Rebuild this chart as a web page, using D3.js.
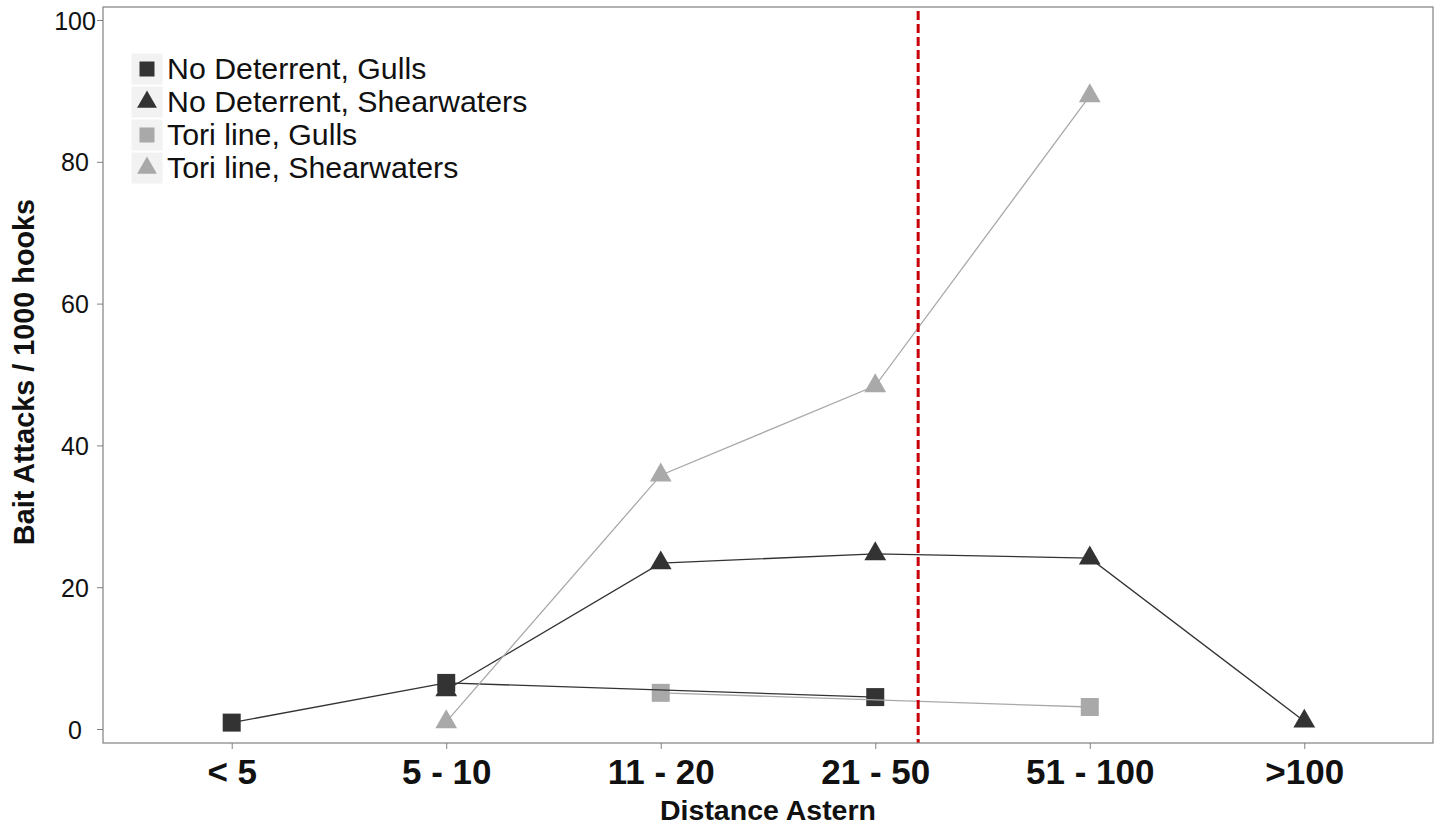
<!DOCTYPE html>
<html>
<head>
<meta charset="utf-8">
<script src="https://cdn.jsdelivr.net/npm/d3@7/dist/d3.min.js"></script>
<style>
  html, body { margin: 0; padding: 0; background: #fff; }
  svg { display: block; font-family: "Liberation Sans", Arial, sans-serif; }
</style>
</head>
<body>
<svg id="chart" width="1437" height="826"></svg>
<script>
// ---- data ----
const categories = ["< 5", "5 - 10", "11 - 20", "21 - 50", "51 - 100", ">100"];
const yTicks = [0, 20, 40, 60, 80, 100];

const ndGullsCats = ["< 5", "5 - 10", "21 - 50"];
const ndGullsVals = [0.9, 6.5, 4.5];

const ndShearCats = ["5 - 10", "11 - 20", "21 - 50", "51 - 100", ">100"];
const ndShearVals = [5.5, 23.4, 24.7, 24.1, 1.1];

const toriGullsCats = ["11 - 20", "51 - 100"];
const toriGullsVals = [5.1, 3.1];

const toriShearCats = ["5 - 10", "11 - 20", "21 - 50", "51 - 100"];
const toriShearVals = [1.0, 35.8, 48.4, 89.3];

const legendLabels = ["No Deterrent, Gulls", "No Deterrent, Shearwaters", "Tori line, Gulls", "Tori line, Shearwaters"];
const vlinePosition = 3.2; // in category steps from the first category

// ---- layout ----
const svg = d3.select("#chart");
const panel = { left: 103, right: 1433, top: 7, bottom: 743 };
const dark = "#333333", light = "#a9a9a9";

const x = d3.scalePoint().domain(categories).range([panel.left, panel.right]).padding(0.6);
const y = d3.scaleLinear().domain([0, 100]).range([729, 20]);

const series = [
  { cats: ndGullsCats, vals: ndGullsVals, color: dark, shape: d3.symbolSquare, size: 324 },
  { cats: ndShearCats, vals: ndShearVals, color: dark, shape: d3.symbolTriangle, size: 205 },
  { cats: toriGullsCats, vals: toriGullsVals, color: light, shape: d3.symbolSquare, size: 324 },
  { cats: toriShearCats, vals: toriShearVals, color: light, shape: d3.symbolTriangle, size: 205 }
];
series.forEach(s => s.points = s.cats.map((c, i) => ({ c, v: s.vals[i] })));

// panel background
svg.append("rect").attr("x", panel.left).attr("y", panel.top)
  .attr("width", panel.right - panel.left).attr("height", panel.bottom - panel.top)
  .attr("fill", "#fff");

// points (drawn first, lines on top)
const pts = svg.append("g");
series.forEach(s => {
  pts.selectAll(null).data(s.points).enter().append("path")
    .attr("d", d3.symbol().type(s.shape).size(s.size))
    .attr("transform", d => `translate(${x(d.c)},${y(d.v)})`)
    .attr("fill", s.color);
});

// lines
const line = d3.line().x(d => x(d.c)).y(d => y(d.v));
series.forEach(s => {
  svg.append("path").datum(s.points)
    .attr("d", line).attr("fill", "none")
    .attr("stroke", s.color).attr("stroke-width", 1.3);
});

// red dashed vertical line
const vx = x(categories[0]) + vlinePosition * x.step();
svg.append("line").attr("x1", vx).attr("x2", vx)
  .attr("y1", panel.top + 4).attr("y2", panel.bottom)
  .attr("stroke", "#c8000a").attr("stroke-width", 3)
  .attr("stroke-dasharray", "9,4");

// panel border
svg.append("rect").attr("x", panel.left).attr("y", panel.top)
  .attr("width", panel.right - panel.left).attr("height", panel.bottom - panel.top)
  .attr("fill", "none").attr("stroke", "#808080").attr("stroke-width", 1.2);

// y axis
const yAxis = d3.axisLeft(y).tickValues(yTicks).tickSize(6).tickPadding(0);
const gy = svg.append("g").attr("transform", `translate(${panel.left},0)`).call(yAxis);
gy.select(".domain").remove();
gy.selectAll(".tick line").attr("stroke", "#808080");
gy.selectAll(".tick text")
  .attr("x", 75 - panel.left).attr("dy", "0.36em")
  .attr("text-anchor", "middle")
  .attr("font-size", 25).attr("fill", "#111")
  .attr("font-family", "'Liberation Sans', Arial, sans-serif");

// x axis
const xAxis = d3.axisBottom(x).tickSize(6).tickPadding(0);
const gx = svg.append("g").attr("transform", `translate(0,${panel.bottom})`).call(xAxis);
gx.select(".domain").remove();
gx.selectAll(".tick line").attr("stroke", "#808080");
gx.selectAll(".tick text")
  .attr("y", 784 - panel.bottom).attr("dy", 0)
  .attr("font-size", 35).attr("font-weight", "bold").attr("fill", "#111")
  .attr("font-family", "'Liberation Sans', Arial, sans-serif");

// axis titles
svg.append("text").attr("x", (panel.left + panel.right) / 2).attr("y", 820)
  .attr("text-anchor", "middle").attr("font-size", 28.5).attr("font-weight", "bold")
  .attr("fill", "#111").text("Distance Astern");
svg.append("text").attr("transform", "translate(34,372) rotate(-90)")
  .attr("text-anchor", "middle").attr("font-size", 28.8).attr("font-weight", "bold")
  .attr("fill", "#111").text("Bait Attacks / 1000 hooks");

// legend
const lg = svg.append("g");
const legendShapes = [
  { color: dark, shape: d3.symbolSquare, size: 225 },
  { color: dark, shape: d3.symbolTriangle, size: 170 },
  { color: light, shape: d3.symbolSquare, size: 225 },
  { color: light, shape: d3.symbolTriangle, size: 170 }
];
legendLabels.forEach((lab, i) => {
  const cy = 69 + i * 33;
  lg.append("rect").attr("x", 131).attr("y", cy - 16).attr("width", 32).attr("height", 32)
    .attr("fill", "#f2f2f2").attr("stroke", "#fff").attr("stroke-width", 1);
  lg.append("path").attr("d", d3.symbol().type(legendShapes[i].shape).size(legendShapes[i].size))
    .attr("transform", `translate(147,${cy})`).attr("fill", legendShapes[i].color);
  lg.append("text").attr("x", 167).attr("y", cy + 10)
    .attr("font-size", 30.3).attr("fill", "#111").text(lab);
});
</script>
</body>
</html>
